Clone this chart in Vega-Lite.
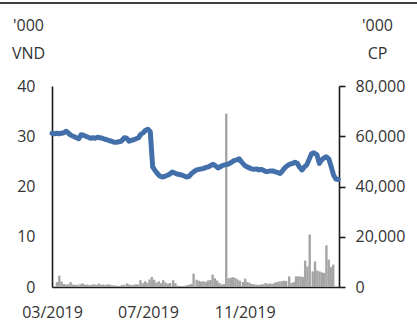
{
  "$schema": "https://vega.github.io/schema/vega-lite/v6.json",
  "width": 287,
  "height": 201,
  "autosize": "none",
  "padding": {"left": 52, "top": 86, "right": 78, "bottom": 35},
  "background": "white",
  "config": {
    "view": {"stroke": null},
    "font": "Open Sans",
    "axis": {
      "labelFont": "Open Sans",
      "titleFont": "Open Sans",
      "labelFontSize": 16,
      "titleFontSize": 16,
      "titleFontWeight": "normal",
      "labelColor": "#333333",
      "titleColor": "#333333",
      "grid": false,
      "domainColor": "#1a1a1a",
      "domainWidth": 1.6,
      "tickColor": "#1a1a1a",
      "tickWidth": 1.6
    }
  },
  "data": {
    "values": [
      {"d": "2019/03/01", "p": 30.6, "v": 2000},
      {"d": "2019/03/04", "p": 30.5, "v": 4500},
      {"d": "2019/03/07", "p": 30.6, "v": 2200},
      {"d": "2019/03/10", "p": 30.5, "v": 1200},
      {"d": "2019/03/13", "p": 30.6, "v": 900},
      {"d": "2019/03/16", "p": 30.7, "v": 1100},
      {"d": "2019/03/19", "p": 31.0, "v": 1900},
      {"d": "2019/03/22", "p": 30.6, "v": 1000},
      {"d": "2019/03/25", "p": 30.2, "v": 800},
      {"d": "2019/03/28", "p": 30.0, "v": 900},
      {"d": "2019/04/01", "p": 29.7, "v": 1200},
      {"d": "2019/04/04", "p": 29.5, "v": 1400},
      {"d": "2019/04/07", "p": 30.3, "v": 900},
      {"d": "2019/04/10", "p": 30.2, "v": 1000},
      {"d": "2019/04/13", "p": 30.0, "v": 800},
      {"d": "2019/04/16", "p": 29.8, "v": 900},
      {"d": "2019/04/19", "p": 29.6, "v": 1100},
      {"d": "2019/04/22", "p": 29.7, "v": 800},
      {"d": "2019/04/25", "p": 29.6, "v": 1400},
      {"d": "2019/04/28", "p": 29.8, "v": 900},
      {"d": "2019/05/01", "p": 29.7, "v": 1000},
      {"d": "2019/05/04", "p": 29.6, "v": 800},
      {"d": "2019/05/07", "p": 29.4, "v": 1100},
      {"d": "2019/05/10", "p": 29.3, "v": 900},
      {"d": "2019/05/13", "p": 29.1, "v": 700},
      {"d": "2019/05/16", "p": 29.0, "v": 600},
      {"d": "2019/05/19", "p": 28.8, "v": 500},
      {"d": "2019/05/22", "p": 28.8, "v": 400},
      {"d": "2019/05/25", "p": 28.9, "v": 700},
      {"d": "2019/05/28", "p": 29.0, "v": 900},
      {"d": "2019/06/01", "p": 29.7, "v": 1400},
      {"d": "2019/06/04", "p": 29.6, "v": 1000},
      {"d": "2019/06/07", "p": 29.0, "v": 800},
      {"d": "2019/06/10", "p": 29.2, "v": 900},
      {"d": "2019/06/13", "p": 29.3, "v": 1100},
      {"d": "2019/06/16", "p": 29.5, "v": 1000},
      {"d": "2019/06/19", "p": 29.7, "v": 2700},
      {"d": "2019/06/22", "p": 30.4, "v": 1500},
      {"d": "2019/06/25", "p": 30.7, "v": 2300},
      {"d": "2019/06/28", "p": 31.2, "v": 1700},
      {"d": "2019/07/01", "p": 31.4, "v": 3000},
      {"d": "2019/07/04", "p": 30.9, "v": 4000},
      {"d": "2019/07/07", "p": 23.9, "v": 2900},
      {"d": "2019/07/10", "p": 23.2, "v": 1800},
      {"d": "2019/07/13", "p": 22.6, "v": 2300},
      {"d": "2019/07/16", "p": 22.1, "v": 1500},
      {"d": "2019/07/19", "p": 21.9, "v": 2700},
      {"d": "2019/07/22", "p": 22.0, "v": 1800},
      {"d": "2019/07/25", "p": 22.2, "v": 1300},
      {"d": "2019/07/28", "p": 22.4, "v": 1600},
      {"d": "2019/08/01", "p": 22.9, "v": 2700},
      {"d": "2019/08/04", "p": 22.7, "v": 1500},
      {"d": "2019/08/07", "p": 22.5, "v": 500},
      {"d": "2019/08/10", "p": 22.4, "v": 400},
      {"d": "2019/08/13", "p": 22.3, "v": 300},
      {"d": "2019/08/16", "p": 22.1, "v": 400},
      {"d": "2019/08/19", "p": 21.9, "v": 700},
      {"d": "2019/08/22", "p": 22.0, "v": 900},
      {"d": "2019/08/25", "p": 22.5, "v": 1200},
      {"d": "2019/08/28", "p": 22.9, "v": 5300},
      {"d": "2019/09/01", "p": 23.3, "v": 2900},
      {"d": "2019/09/04", "p": 23.4, "v": 2500},
      {"d": "2019/09/07", "p": 23.5, "v": 2200},
      {"d": "2019/09/10", "p": 23.6, "v": 2300},
      {"d": "2019/09/13", "p": 23.8, "v": 2000},
      {"d": "2019/09/16", "p": 23.9, "v": 2600},
      {"d": "2019/09/19", "p": 24.2, "v": 2800},
      {"d": "2019/09/22", "p": 24.4, "v": 4900},
      {"d": "2019/09/25", "p": 24.1, "v": 3500},
      {"d": "2019/09/28", "p": 23.7, "v": 2600},
      {"d": "2019/10/01", "p": 23.9, "v": 1600},
      {"d": "2019/10/04", "p": 24.2, "v": 1000},
      {"d": "2019/10/07", "p": 24.3, "v": 1200},
      {"d": "2019/10/10", "p": 24.4, "v": 69000},
      {"d": "2019/10/13", "p": 24.6, "v": 3500},
      {"d": "2019/10/16", "p": 24.9, "v": 3700},
      {"d": "2019/10/19", "p": 25.2, "v": 3900},
      {"d": "2019/10/22", "p": 25.3, "v": 3600},
      {"d": "2019/10/25", "p": 25.5, "v": 3000},
      {"d": "2019/10/28", "p": 24.9, "v": 2500},
      {"d": "2019/11/01", "p": 24.2, "v": 2000},
      {"d": "2019/11/04", "p": 23.9, "v": 3300},
      {"d": "2019/11/07", "p": 23.7, "v": 2000},
      {"d": "2019/11/10", "p": 23.5, "v": 1600},
      {"d": "2019/11/13", "p": 23.4, "v": 1200},
      {"d": "2019/11/16", "p": 23.5, "v": 1100},
      {"d": "2019/11/19", "p": 23.3, "v": 900},
      {"d": "2019/11/22", "p": 23.4, "v": 800},
      {"d": "2019/11/25", "p": 23.2, "v": 1000},
      {"d": "2019/11/28", "p": 23.0, "v": 1100},
      {"d": "2019/12/01", "p": 23.0, "v": 1600},
      {"d": "2019/12/04", "p": 23.1, "v": 1200},
      {"d": "2019/12/07", "p": 23.1, "v": 1400},
      {"d": "2019/12/10", "p": 22.9, "v": 1300},
      {"d": "2019/12/13", "p": 22.8, "v": 1700},
      {"d": "2019/12/16", "p": 22.6, "v": 2000},
      {"d": "2019/12/19", "p": 23.1, "v": 2200},
      {"d": "2019/12/22", "p": 23.7, "v": 2300},
      {"d": "2019/12/25", "p": 24.1, "v": 2500},
      {"d": "2019/12/28", "p": 24.4, "v": 2400},
      {"d": "2020/01/01", "p": 24.6, "v": 4200},
      {"d": "2020/01/04", "p": 24.8, "v": 1600},
      {"d": "2020/01/07", "p": 24.6, "v": 2000},
      {"d": "2020/01/10", "p": 23.8, "v": 4200},
      {"d": "2020/01/13", "p": 23.3, "v": 4300},
      {"d": "2020/01/16", "p": 23.9, "v": 4200},
      {"d": "2020/01/19", "p": 24.3, "v": 4000},
      {"d": "2020/01/22", "p": 25.4, "v": 10500},
      {"d": "2020/01/25", "p": 26.5, "v": 8200},
      {"d": "2020/01/28", "p": 26.7, "v": 20900},
      {"d": "2020/02/01", "p": 26.3, "v": 6200},
      {"d": "2020/02/04", "p": 24.6, "v": 10200},
      {"d": "2020/02/07", "p": 25.3, "v": 6500},
      {"d": "2020/02/10", "p": 25.7, "v": 6200},
      {"d": "2020/02/13", "p": 25.9, "v": 5800},
      {"d": "2020/02/16", "p": 25.5, "v": 5600},
      {"d": "2020/02/19", "p": 24.0, "v": 16600},
      {"d": "2020/02/22", "p": 22.3, "v": 10900},
      {"d": "2020/02/25", "p": 21.5, "v": 7900},
      {"d": "2020/02/28", "p": 21.4, "v": 8900}
    ]
  },
  "layer": [
    {
      "mark": {"type": "bar", "size": 2.4, "color": "#A5A5A5"},
      "encoding": {
        "x": {
          "field": "d",
          "type": "temporal",
          "scale": {"domain": [{"year": 2019, "month": 3, "date": 1}, {"year": 2020, "month": 2, "date": 29}]},
          "axis": null
        },
        "y": {
          "field": "v",
          "type": "quantitative",
          "scale": {"domain": [0, 80000], "nice": false},
          "axis": {
            "orient": "right",
            "values": [0, 20000, 40000, 60000, 80000],
            "format": ",d",
            "ticks": true,
            "tickSize": 6,
            "labelPadding": 10,
            "labelAlign": "left",
            "title": ["'000", "CP"],
            "titleAngle": 0,
            "titleAlign": "center",
            "titleBaseline": "alphabetic",
            "titleX": 38,
            "titleY": -56,
            "titleLineHeight": 28
          }
        }
      }
    },
    {
      "mark": {"type": "line", "color": "#4370AA", "strokeWidth": 5, "strokeCap": "round", "strokeJoin": "round"},
      "encoding": {
        "x": {
          "field": "d",
          "type": "temporal",
          "scale": {"domain": [{"year": 2019, "month": 3, "date": 1}, {"year": 2020, "month": 2, "date": 29}]},
          "axis": {
            "values": [
              {"year": 2019, "month": 3, "date": 1},
              {"year": 2019, "month": 7, "date": 1},
              {"year": 2019, "month": 11, "date": 1}
            ],
            "format": "%m/%Y",
            "ticks": false,
            "labelPadding": 17,
            "labelFlush": false,
            "labelOverlap": false,
            "title": null
          }
        },
        "y": {
          "field": "p",
          "type": "quantitative",
          "scale": {"domain": [0, 40], "nice": false},
          "axis": {
            "orient": "left",
            "values": [0, 10, 20, 30, 40],
            "ticks": false,
            "labelPadding": 17,
            "title": ["'000", "VND"],
            "titleAngle": 0,
            "titleAlign": "center",
            "titleBaseline": "alphabetic",
            "titleX": -24,
            "titleY": -56,
            "titleLineHeight": 28
          }
        }
      }
    },
    {
      "data": {"values": [{"from": 0, "to": 1, "level": 1}]},
      "mark": {"type": "rule", "color": "#404040", "strokeWidth": 2},
      "encoding": {
        "x": {"field": "from", "type": "quantitative", "scale": {"domain": [0, 1], "range": [-52, 365]}, "axis": null},
        "x2": {"field": "to"},
        "y": {"field": "level", "type": "quantitative", "scale": {"domain": [0, 1], "range": [0, -83]}, "axis": null}
      }
    }
  ],
  "resolve": {"scale": {"x": "independent", "y": "independent"}}
}
